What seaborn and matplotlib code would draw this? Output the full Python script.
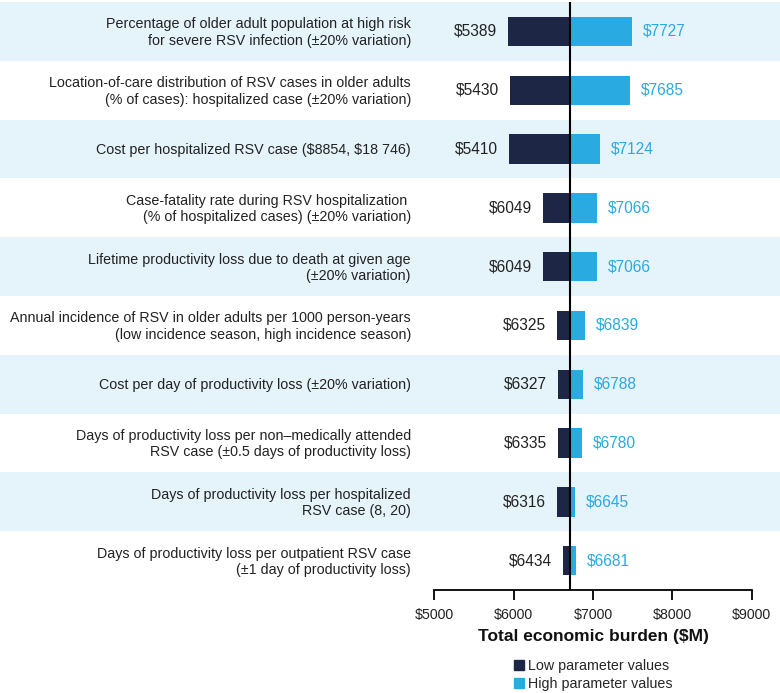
import matplotlib
matplotlib.use("Agg")
import matplotlib.pyplot as plt
import matplotlib.transforms as mtransforms
from matplotlib.patches import Patch
import seaborn as sns
import pandas as pd

parameters = [
    "Percentage of older adult population at high risk\nfor severe RSV infection (±20% variation)",
    "Location-of-care distribution of RSV cases in older adults\n(% of cases): hospitalized case (±20% variation)",
    "Cost per hospitalized RSV case (\\$8854, \\$18 746)",
    "Case-fatality rate during RSV hospitalization \n(% of hospitalized cases) (±20% variation)",
    "Lifetime productivity loss due to death at given age\n(±20% variation)",
    "Annual incidence of RSV in older adults per 1000 person-years\n(low incidence season, high incidence season)",
    "Cost per day of productivity loss (±20% variation)",
    "Days of productivity loss per non–medically attended\nRSV case (±0.5 days of productivity loss)",
    "Days of productivity loss per hospitalized\nRSV case (8, 20)",
    "Days of productivity loss per outpatient RSV case\n(±1 day of productivity loss)",
]
# Labelled results ($M)
low_values = [5389, 5430, 5410, 6049, 6049, 6325, 6327, 6335, 6316, 6434]
high_values = [7727, 7685, 7124, 7066, 7066, 6839, 6788, 6780, 6645, 6681]
# Bar ends as drawn in the reference ($M)
baseline = 6712
low_drawn = [5932, 5953, 5941, 6373, 6373, 6549, 6562, 6562, 6549, 6625]
high_drawn = [7486, 7465, 7087, 7045, 7045, 6898, 6869, 6856, 6768, 6788]
ticks = [5000, 6000, 7000, 8000, 9000]
tick_labels = ["\\$5000", "\\$6000", "\\$7000", "\\$8000", "\\$9000"]

low_name = "Low parameter values"
high_name = "High parameter values"
dark = "#1d2745"
light = "#29aae1"
band = "#e5f3fb"

sns.set_theme(style="white")
plt.rcParams["font.family"] = ["Liberation Sans", "DejaVu Sans"]

rows = [f"p{i}" for i in range(len(parameters))]
df = pd.DataFrame({
    "param": rows * 2,
    "delta": [v - baseline for v in low_drawn] + [v - baseline for v in high_drawn],
    "series": [low_name] * len(rows) + [high_name] * len(rows),
})

fig = plt.figure(figsize=(7.8, 6.93), dpi=100)
ax = fig.add_axes([0, 103 / 693, 1, 588 / 693])

for i in range(len(rows)):
    if i % 2 == 0:
        ax.axhspan(i - 0.5, i + 0.5, color=band, lw=0, zorder=0)

sns.barplot(data=df, y="param", x="delta", hue="series", order=rows,
            hue_order=[low_name, high_name], palette=[dark, light],
            dodge=False, width=0.5, errorbar=None, left=baseline,
            saturation=1, ax=ax, zorder=2, linewidth=0, legend=False)

px = 1000 / 79.35
ax.set_xlim(5000 - 434.3 * px, 5000 + (780 - 434.3) * px)
ax.set_ylim(len(rows) - 0.5, -0.5)
ax.axvline(baseline, color="black", lw=1.5, zorder=3)

trans = mtransforms.blended_transform_factory(ax.transAxes, ax.transData)
for i, (lab, lo, hi, lv, hv) in enumerate(zip(parameters, low_values, high_values, low_drawn, high_drawn)):
    ax.text(411 / 780, i + 0.02, lab, transform=trans, ha="right", va="center",
            fontsize=10.3, color="#222222", linespacing=1.22)
    ax.annotate(f"\\${lo}", (lv, i), xytext=(-8, 0), textcoords="offset points",
                ha="right", va="center", fontsize=11.2, color="#222222")
    ax.annotate(f"\\${hi}", (hv, i), xytext=(8, 0), textcoords="offset points",
                ha="left", va="center", fontsize=11.2, color=light)

ax.set_yticks([])
ax.set_ylabel("")
ax.set_xticks(ticks)
ax.set_xticklabels(tick_labels, fontsize=10.2, color="#222222")
ax.tick_params(axis="x", direction="out", length=7, width=1.3, color="black", pad=6, bottom=True)
for s in ["top", "right", "left"]:
    ax.spines[s].set_visible(False)
ax.spines["bottom"].set_bounds(5000, 9000)
ax.spines["bottom"].set_color("black")
ax.spines["bottom"].set_linewidth(1.3)
ax.set_xlabel("Total economic burden ($M)", fontsize=12.5, fontweight="bold",
              color="#111111", labelpad=5)
ax.xaxis.label.set_position((593 / 780, 0))

handles = [Patch(color=dark, label=low_name), Patch(color=light, label=high_name)]
fig.legend(handles=handles, loc="upper left", bbox_to_anchor=(514 / 780, 1 - 659 / 693),
           frameon=False, fontsize=10.3, handlelength=0.7, handleheight=0.7,
           handletextpad=0.3, labelspacing=0.25, borderaxespad=0, borderpad=0)

fig.savefig("out.png", dpi=100)
